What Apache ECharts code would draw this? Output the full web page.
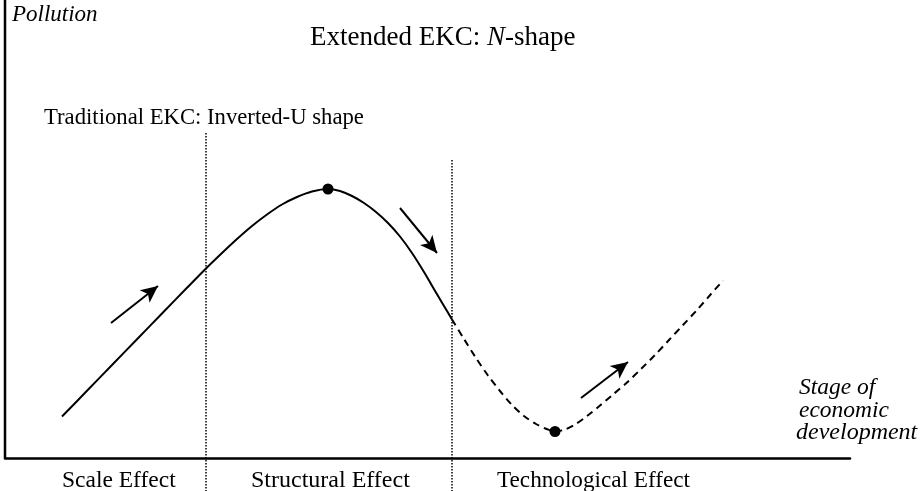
<!DOCTYPE html>
<html><head><meta charset="utf-8">
<script src="https://cdn.jsdelivr.net/npm/echarts@6/dist/echarts.min.js"></script>
<style>html,body{margin:0;padding:0;background:#fff}#c{width:920px;height:491px}</style>
</head><body><div id="c"></div>
<script>
// Stage of economic development (x) vs Pollution (y), arbitrary units
const solidX = [57, 82, 107, 132, 157, 182, 202, 217, 232, 247, 262, 277, 292, 307, 323, 335, 347, 359, 371, 383, 395, 407, 419, 431, 439, 447];
const solidY = [41.5, 67.2, 93, 118.7, 144.5, 170.2, 190.5, 205, 219, 232, 243.5, 253.5, 261, 266.5, 269, 267, 262, 255, 246, 235, 221.5, 205, 186, 165.5, 152, 138.5];
const dashedX = [447, 459, 471, 483, 495, 507, 519, 531, 543, 550, 560, 570, 582, 595, 608, 622, 636, 650, 664, 678, 692, 706, 718];
const dashedY = [138.5, 119, 100, 82.5, 67, 53, 42, 34, 28.5, 26.5, 28.5, 33.5, 42, 52.5, 63.5, 75.5, 89, 103, 118, 133, 148, 164, 177.5];
const turningX = [323, 550];
const turningY = [269, 26.5];
// arrows: start and end
const arrowStartX = [106, 395, 576];
const arrowStartY = [135, 250, 60];
const arrowEndX = [153, 432, 623];
const arrowEndY = [172, 205, 96];
// stage dividers
const dividerX = [200.5, 446.7];
const dividerTop = [325, 298];
const axisXMax = 845, axisYMin = -33, axisYMax = 458;

const regionLabels = ['Scale Effect', 'Structural Effect', 'Technological Effect'];
const xTitleLines = ['Stage of', 'economic', 'development'];

const zip = (xs, ys) => xs.map((x, i) => [x, ys[i]]);
const serif = '"Liberation Serif", "Times New Roman", serif';
const txt = (text, x, y, size, italic) => ({
  type: 'text', x: x, y: y, silent: true,
  style: {text: text, fontFamily: serif, fontSize: size, fontStyle: italic ? 'italic' : 'normal',
    fill: '#000', verticalAlign: 'middle'}
});

const chart = echarts.init(document.getElementById('c'), null, {renderer: 'canvas'});
const dividerLines = dividerX.map((x, i) => [{coord: [x, dividerTop[i]]}, {coord: [x, axisYMin]}]);
const arrowLines = arrowStartX.map((x, i) => [
  {coord: [x, arrowStartY[i]], symbol: 'none'},
  {coord: [arrowEndX[i], arrowEndY[i]], symbol: 'arrow', symbolSize: [12, 17]}
]);

chart.setOption({
  animation: false,
  grid: {left: 5, right: 70, top: 0, bottom: 0},
  xAxis: {type: 'value', min: 0, max: axisXMax,
    axisLine: {show: true, onZero: true, lineStyle: {color: '#000', width: 2.5}},
    axisTick: {show: false}, axisLabel: {show: false}, splitLine: {show: false}},
  yAxis: {type: 'value', min: axisYMin, max: axisYMax,
    axisLine: {show: false}, axisTick: {show: false}, axisLabel: {show: false}, splitLine: {show: false}},
  series: [
    {type: 'line', data: [[0, 0], [0, axisYMax]], symbol: 'none', silent: true,
      lineStyle: {color: '#000', width: 2.5}},
    {type: 'line', data: zip(solidX, solidY), smooth: 0.3, symbol: 'none', silent: true,
      lineStyle: {color: '#000', width: 2}},
    {type: 'line', data: zip(dashedX, dashedY), smooth: 0.3, symbol: 'none', silent: true,
      lineStyle: {color: '#000', width: 2, type: [7, 5]}},
    {type: 'scatter', data: zip(turningX, turningY), symbolSize: 11, silent: true, z: 5,
      itemStyle: {color: '#000', opacity: 1}},
    {type: 'line', data: [], silent: true,
      markLine: {silent: true, symbol: ['none', 'none'], label: {show: false},
        lineStyle: {color: '#000', width: 1.5, type: [1.5, 1.5]}, data: dividerLines}},
    {type: 'line', data: [], silent: true,
      markLine: {silent: true, symbol: ['none', 'none'], label: {show: false},
        lineStyle: {color: '#000', width: 2, type: 'solid'}, itemStyle: {color: '#000'}, data: arrowLines}}
  ],
  graphic: [
    txt('Pollution', 12, 15, 23, true),
    {type: 'text', x: 310, y: 38, silent: true, style: {
      text: '{a|Extended EKC: }{i|N}{a|-shape}', fill: '#000', verticalAlign: 'middle',
      rich: {a: {fontFamily: serif, fontSize: 27, fill: '#000'},
             i: {fontFamily: serif, fontSize: 27, fontStyle: 'italic', fill: '#000'}}}},
    txt('Traditional EKC: Inverted-U shape', 44, 118, 22.7, false),
    txt(regionLabels[0], 62, 481, 23.5, false),
    txt(regionLabels[1], 251, 481, 24, false),
    txt(regionLabels[2], 497, 481, 23.2, false),
    txt(xTitleLines[0], 799, 388, 23.5, true),
    txt(xTitleLines[1], 799, 411, 23.5, true),
    txt(xTitleLines[2], 796, 433, 24, true)
  ]
});
</script></body></html>
